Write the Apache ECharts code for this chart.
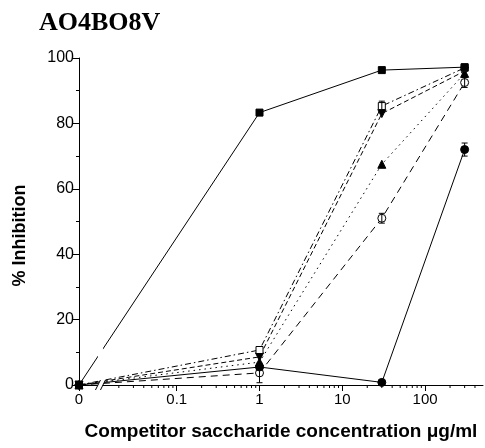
<!DOCTYPE html>
<html>
<head>
<meta charset="utf-8">
<script src="https://cdn.jsdelivr.net/npm/echarts@6/dist/echarts.min.js"></script>
<style>html,body{margin:0;padding:0;background:#fff}#c{width:485px;height:448px}</style>
</head>
<body>
<div id="c"></div>
<script>
// ---- data ----
const concentrations = [0, 1, 30, 300];           // µg/ml
const filledSquare  = [0, 83.3, 96.3, 97.2];
const openSquare    = [0, 10.7, 85.3, 97.0];
const downTriangle  = [0, 8.6, 83.0, 96.0];
const upTriangle    = [0, 7.0, 67.5, 95.3];
const filledCircle  = [0, 5.5, 0.8, 72.0];
const openCircle    = [0, 3.7, 51.0, 92.5];
const openSquareErr   = [0, 0, 1.5, 0];
const filledCircleErr = [0, 0, 0, 2.0];
const openCircleErr   = [0, 3.0, 1.5, 1.5];
const xTickValues = [0, 0.1, 1, 10, 100];
const xTickLabels = ['0', '0.1', '1', '10', '100'];
const xMinorTicks = [0.02,0.03,0.04,0.05,0.06,0.07,0.08,0.09,
                     0.2,0.3,0.4,0.5,0.6,0.7,0.8,0.9,
                     2,3,4,5,6,7,8,9,
                     20,30,40,50,60,70,80,90,
                     200,300,400];
const breakAt = 0.012;
const ZERO_LOG = -2.18;     // where "0" sits on the log scale
const X_MAX_LOG = Math.log10(500);

const tx = v => v === 0 ? ZERO_LOG : Math.log10(v);
const pts = vals => concentrations.map((c, i) => [tx(c), vals[i]]);
const errPts = (vals, errs) => concentrations.map((c, i) => [tx(c), vals[i], errs[i]]).filter(d => d[2] > 0);

const FONT = 'Liberation Sans, Arial, sans-serif';
const BLACK = '#000';

function lineSeries(name, vals, symbol, filled, type, size, rotate) {
  return {
    name, type: 'line', data: pts(vals), symbol, symbolSize: size || 7, symbolRotate: rotate || 0,
    showSymbol: true, z: 3,
    lineStyle: { color: BLACK, width: 1, type: type },
    itemStyle: { color: filled ? BLACK : '#fff', borderColor: BLACK, borderWidth: 1 },
    emphasis: { disabled: true }
  };
}

function errSeries(data) {
  return {
    type: 'custom', data, z: 4, silent: true,
    renderItem(params, api) {
      const x = api.value(0), y = api.value(1), e = api.value(2);
      const t = api.coord([x, y + e]), b = api.coord([x, y - e]);
      const w = 3, st = { stroke: BLACK, lineWidth: 1 };
      return { type: 'group', children: [
        { type: 'line', shape: { x1: t[0], y1: t[1], x2: b[0], y2: b[1] }, style: st },
        { type: 'line', shape: { x1: t[0] - w, y1: t[1], x2: t[0] + w, y2: t[1] }, style: st },
        { type: 'line', shape: { x1: b[0] - w, y1: b[1], x2: b[0] + w, y2: b[1] }, style: st }
      ]};
    }
  };
}

const chart = echarts.init(document.getElementById('c'), null, { renderer: 'canvas' });
chart.setOption({
  animation: false,
  backgroundColor: '#fff',
  title: {
    text: 'AO4BO8V', left: 34, top: 5,
    textStyle: { fontFamily: 'Liberation Serif, Times New Roman, serif', fontWeight: 'bold', fontSize: 26, color: BLACK }
  },
  grid: { left: 79, right: 2, top: 58, bottom: 63, containLabel: false },
  xAxis: {
    type: 'value', min: ZERO_LOG, max: X_MAX_LOG, position: 'bottom',
    name: 'Competitor saccharide concentration μg/ml', nameLocation: 'middle', nameGap: 37,
    nameTextStyle: { fontFamily: FONT, fontWeight: 'bold', fontSize: 19, color: BLACK },
    axisLine: { onZero: false, lineStyle: { color: BLACK, width: 1 } },
    axisTick: { show: true, length: 6, customValues: xTickValues.map(tx), lineStyle: { color: BLACK } },
    axisLabel: { customValues: xTickValues.map(tx), fontFamily: FONT, fontSize: 15, color: BLACK, margin: 7,
      formatter: v => { const i = xTickValues.map(tx).findIndex(t => Math.abs(t - v) < 1e-6); return i >= 0 ? xTickLabels[i] : ''; } },
    splitLine: { show: false }
  },
  yAxis: {
    type: 'value', min: 0, max: 100, interval: 20,
    name: '% Inhibition', nameLocation: 'middle', nameGap: 50,
    nameTextStyle: { fontFamily: FONT, fontWeight: 'bold', fontSize: 18, color: BLACK, padding: [0, 28, 0, 0] },
    axisLine: { show: true, onZero: false, lineStyle: { color: BLACK, width: 1 } },
    axisTick: { show: true, length: 7, lineStyle: { color: BLACK } },
    minorTick: { show: true, splitNumber: 2, length: 3, lineStyle: { color: BLACK } },
    axisLabel: { fontFamily: FONT, fontSize: 16, color: BLACK, margin: 5 },
    splitLine: { show: false }
  },
  series: [
    lineSeries('openCircle', openCircle, 'circle', false, [7, 5], 8),
    lineSeries('upTriangle', upTriangle, 'triangle', true, [1.5, 4], 8),
    lineSeries('downTriangle', downTriangle, 'triangle', true, [5, 3], 8, 180),
    lineSeries('openSquare', openSquare, 'rect', false, [6, 3, 1.5, 3], 7),
    lineSeries('filledCircle', filledCircle, 'circle', true, 'solid', 8),
    lineSeries('filledSquare', filledSquare, 'rect', true, 'solid', 7),
    errSeries(errPts(openSquare, openSquareErr)),
    errSeries(errPts(filledCircle, filledCircleErr)),
    errSeries(errPts(openCircle, openCircleErr)),
    {
      // log-scale minor ticks below the x axis
      type: 'custom', data: xMinorTicks.map(v => [tx(v), 0]), z: 5, silent: true, clip: false,
      renderItem(params, api) {
        const p = api.coord([api.value(0), 0]);
        return { type: 'line', shape: { x1: p[0], y1: p[1], x2: p[0], y2: p[1] + 3 }, style: { stroke: BLACK, lineWidth: 1 } };
      }
    },
    {
      type: 'custom', data: [[tx(breakAt), 0]], z: 10, silent: true, clip: false,
      renderItem(params, api) {
        const b = api.coord([api.value(0), 0]);
        const top = api.coord([api.value(0), 100]);
        const xb = b[0], y0 = b[1], h = 5, d = 2.5, s = 5;
        const white = { fill: '#fff', stroke: null };
        const st = { stroke: BLACK, lineWidth: 1 };
        return { type: 'group', children: [
          { type: 'rect', shape: { x: xb - 2.5, y: top[1], width: 5, height: y0 - 4 - top[1] }, style: white },
          { type: 'polygon', shape: { points: [[xb - s/2 - d, y0 + h], [xb + s/2 - d, y0 + h], [xb + s/2 + d, y0 - h], [xb - s/2 + d, y0 - h]] }, style: white },
          { type: 'line', shape: { x1: xb - s/2 - d, y1: y0 + h, x2: xb - s/2 + d, y2: y0 - h }, style: st },
          { type: 'line', shape: { x1: xb + s/2 - d, y1: y0 + h, x2: xb + s/2 + d, y2: y0 - h }, style: st }
        ]};
      }
    }
  ]
});
</script>
</body>
</html>
